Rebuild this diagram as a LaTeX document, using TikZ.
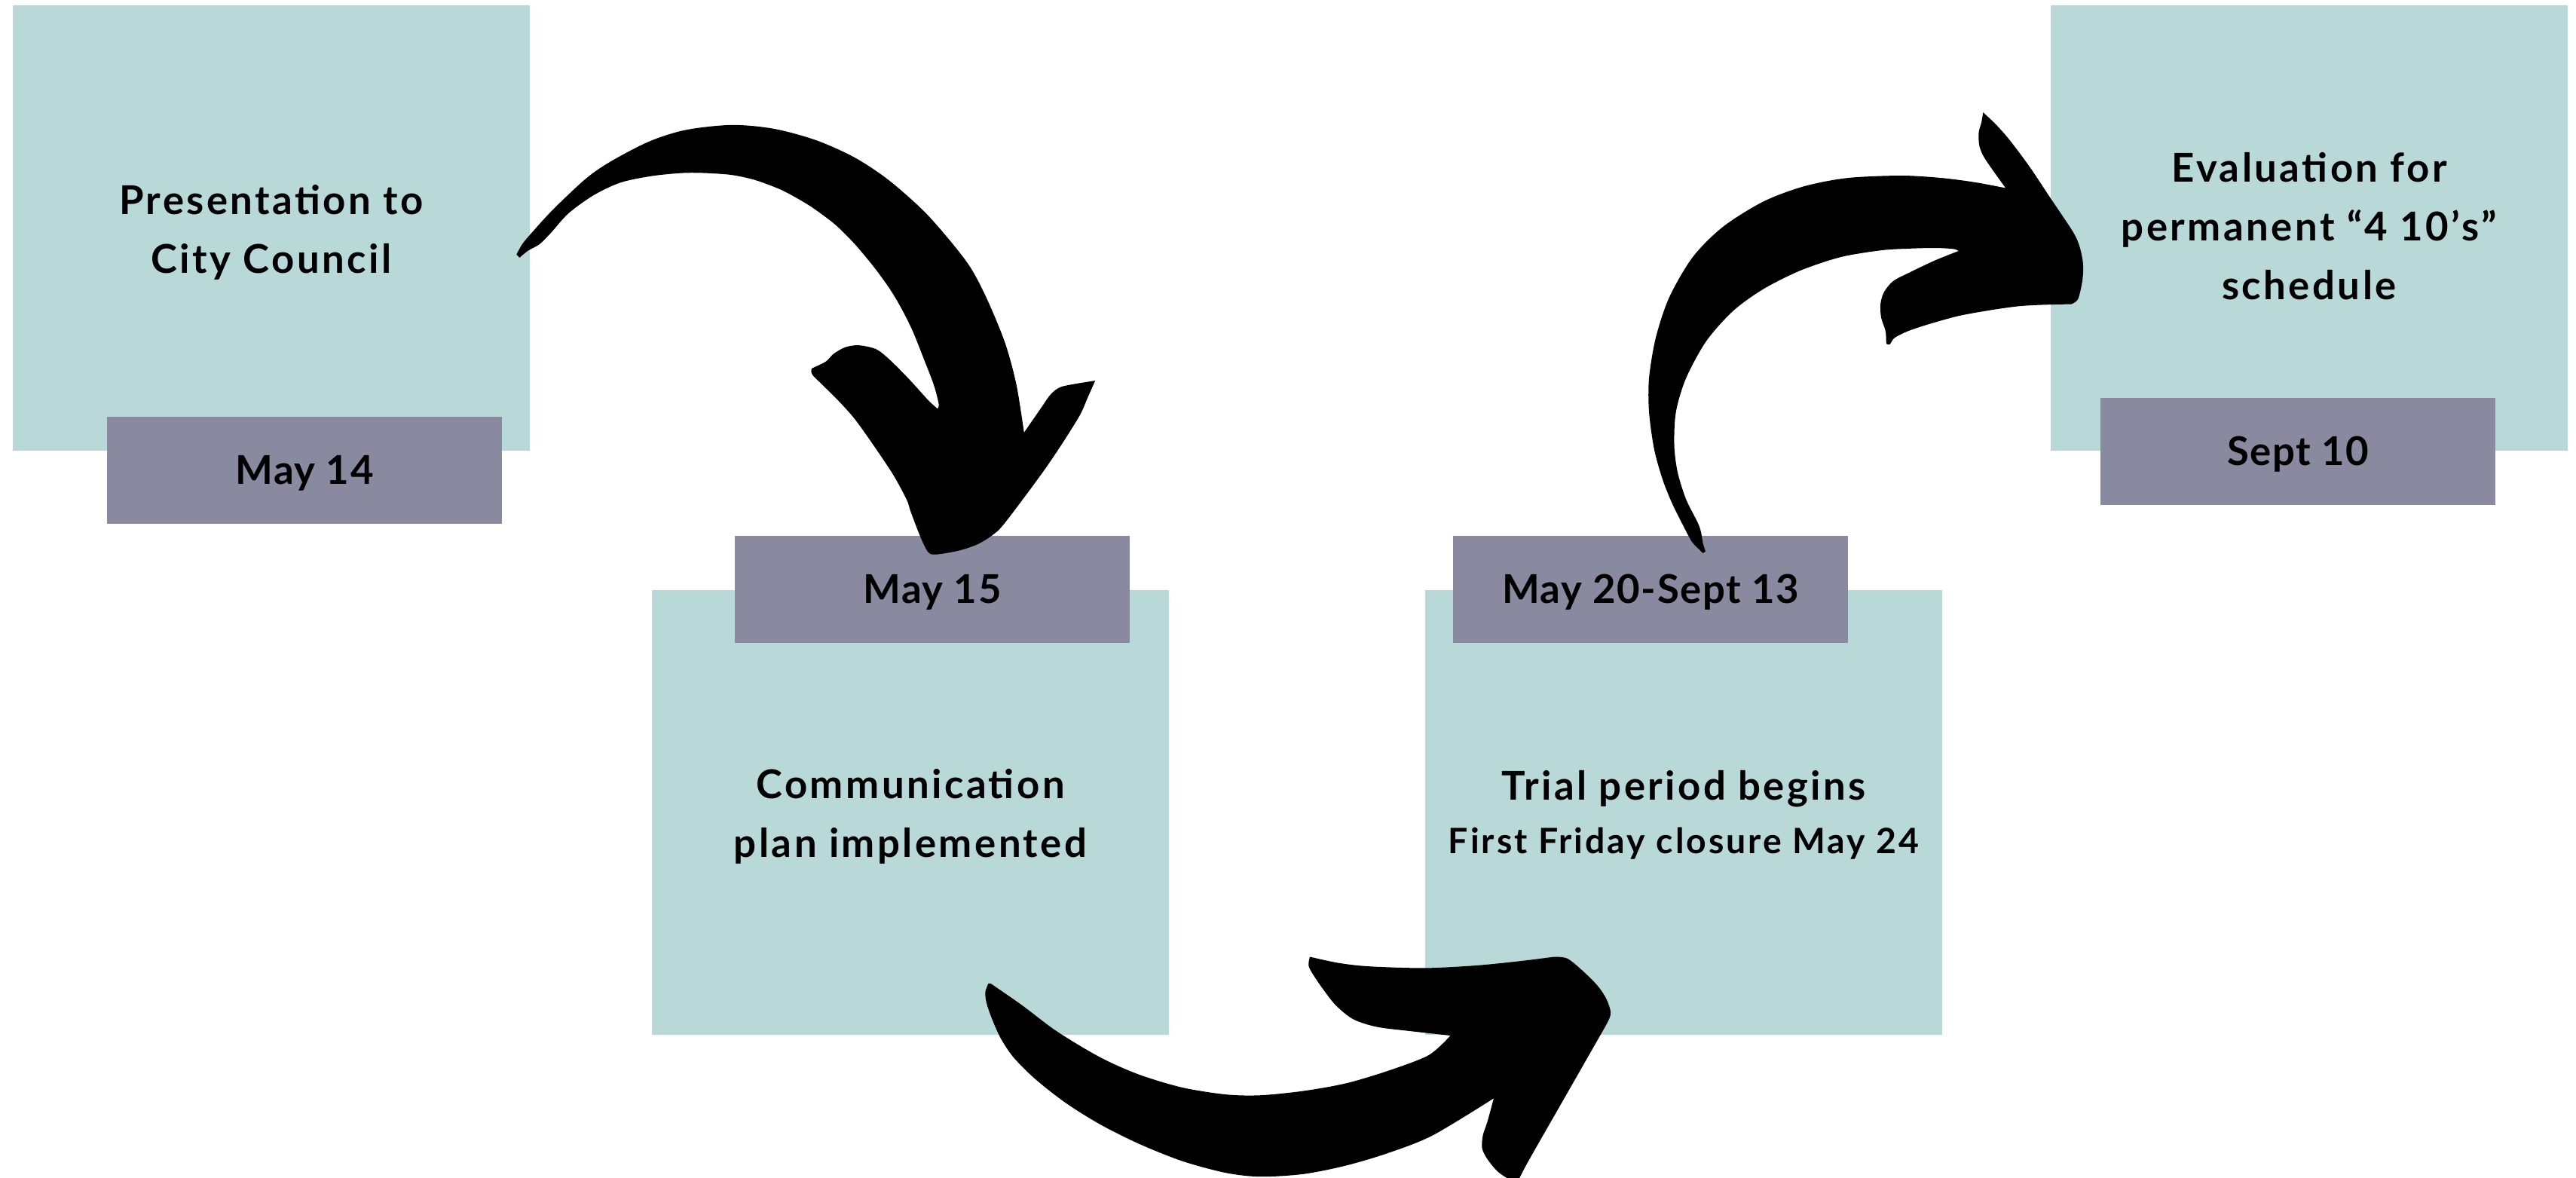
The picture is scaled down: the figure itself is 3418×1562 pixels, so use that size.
\documentclass[tikz,border=0pt]{standalone}
\usepackage{fontspec}
\setmainfont{Lato}
\newfontfamily\cardfont{Lato}[LetterSpace=6.5]
\newfontfamily\datefont{Lato}[LetterSpace=3]
\definecolor{boxteal}{RGB}{185,216,216}
\definecolor{datepurple}{RGB}{137,137,159}
\begin{document}
\begin{tikzpicture}[x=0.02cm,y=-0.02cm,
  card/.style={fill=boxteal, minimum width=13.72cm, minimum height=11.82cm, inner sep=0pt, outer sep=0pt},
  datebox/.style={fill=datepurple, minimum width=10.5cm, minimum height=2.84cm, inner sep=0pt, outer sep=0pt,
    font=\datefont\bfseries\fontsize{30}{36}\selectfont, text height=21.5pt, text depth=0pt},
  cardtext/.style={font=\cardfont\bfseries\fontsize{30}{44.5}\selectfont, align=center, inner sep=0pt},
  subtext/.style={font=\cardfont\bfseries\fontsize{26.4}{30}\selectfont, inner sep=0pt},
  bigarrow/.style={fill=black},
  sm/.style={smooth, tension=0.5}]
\useasboundingbox (0,0) rectangle (3418,1562);
\fill[white] (0,0) rectangle (3418,1562);

% cards
\node[card] (c1) at (360,302.5) {};
\node[card] (c2) at (1208,1078) {};
\node[card] (c3) at (2234,1078) {};
\node[card] (c4) at (3064,302.5) {};

% date tabs
\node[datebox] (d1) at (404,624) {May 14};
\node[datebox] (d2) at (1237,782) {May 15};
\node[datebox] (d3) at (2190,782) {May 20-Sept 13};
\node[datebox] (d4) at (3049,599) {Sept 10};

% card texts
\node[cardtext] (t1) at (360,308) {Presentation to\\City Council};
\node[cardtext] (t2) at (1208,1083) {Communication\\plan implemented};
\node[cardtext, anchor=base] (t3) at (2234,1061) {Trial period begins};
\node[subtext, anchor=base] (t3b) at (2234,1132) {First Friday closure May 24};
\node[cardtext] (t4) at (3064,300) {Evaluation for\\permanent “4 10’s”\\schedule};

% arrow 1: c1 -> d2
\begin{scope}[shift={(670,0)}, scale=0.5102]
\fill[bigarrow] plot[sm] coordinates {(30,662) (45,635) (70,605) (125,545) (210,465) (275,420) (375,368) (470,338) (590,325) (700,335) (810,365) (910,410) (1000,470) (1100,560) (1200,680) (1250,770) (1300,890) (1330,1000) (1350,1125)}
 -- plot[sm] coordinates {(1350,1125) (1395,1060) (1420,1025) (1450,1005) (1535,990)}
 -- plot[sm] coordinates {(1535,990) (1515,1035) (1495,1080) (1445,1160) (1390,1240) (1300,1360) (1270,1390) (1230,1415) (1180,1432) (1120,1442) (1100,1435) (1080,1395) (1055,1330) (1045,1300) (1010,1235) (960,1160) (910,1090) (870,1045) (830,1005) (800,975) (797,960) (805,955) (835,940) (855,920) (885,903) (920,898) (965,908) (1000,935) (1050,985) (1100,1040) (1125,1063)}
 -- plot[sm] coordinates {(1125,1063) (1128,1050) (1115,1000) (1090,935) (1060,860) (1030,800) (1000,750) (960,695) (910,635) (860,585) (800,540) (750,510) (710,490) (650,468) (590,455) (520,450) (460,450) (380,458) (300,475) (230,508) (165,555) (120,605) (90,635) (60,652) (38,670)}
 -- cycle;
\end{scope}

% arrow 2: c2 -> c3
\begin{scope}[shift={(1270,662)}, scale=0.5742]
\fill[bigarrow] plot[sm] coordinates {(72,1120) (65,1140) (68,1165) (80,1200) (100,1245) (130,1290) (180,1340) (250,1395) (330,1445) (420,1490) (520,1530) (620,1557) (700,1566) (800,1560) (900,1540) (1000,1510) (1100,1470) (1240,1385)}
 -- plot[sm] coordinates {(1240,1385) (1225,1440) (1215,1470) (1213,1500) (1225,1525) (1250,1555) (1285,1578)}
 -- plot[sm] coordinates {(1295,1578) (1320,1530) (1400,1390) (1480,1250) (1505,1205) (1510,1185) (1500,1155) (1480,1125) (1445,1090) (1410,1062) (1380,1058)}
 -- plot[sm] coordinates {(1380,1058) (1300,1068) (1200,1078) (1080,1084) (950,1080) (880,1072) (815,1058)}
 -- plot[sm] coordinates {(815,1058) (812,1078) (822,1098) (845,1132) (875,1170) (915,1202) (970,1220) (1050,1230) (1140,1240)}
 -- plot[sm] coordinates {(1140,1240) (1090,1285) (1000,1320) (900,1350) (800,1368) (700,1378) (620,1376) (520,1360) (420,1330) (330,1290) (230,1230) (150,1170) (78,1120)}
 -- cycle;
\end{scope}

% arrow 3: d3 -> c4
\begin{scope}[shift={(2130,100)}, scale=0.4464]
\fill[bigarrow] plot[sm] coordinates {(290,1420) (280,1410) (262,1392) (248,1370) (200,1275) (170,1200) (145,1110) (130,1000) (130,900) (150,780) (190,660) (260,540) (350,450) (470,375) (590,330) (720,305) (880,298) (1000,305) (1100,318) (1190,335)}
 -- plot[sm] coordinates {(1190,335) (1130,250) (1112,210) (1110,170) (1118,140) (1123,110)}
 -- plot[sm] coordinates {(1123,110) (1160,145) (1200,190) (1260,270) (1320,360) (1390,465) (1410,510) (1420,560) (1418,610) (1405,665) (1385,680)}
 -- plot[sm] coordinates {(1385,680) (1300,682) (1230,686) (1150,697) (1050,715) (960,740) (900,760) (860,780) (845,800) (835,797)}
 -- plot[sm] coordinates {(835,797) (833,760) (820,720) (818,680) (828,645) (855,612) (900,588) (980,550) (1050,522)}
 -- plot[sm] coordinates {(1050,522) (1035,516) (980,513) (900,515) (820,520) (700,540) (580,580) (470,635) (380,700) (300,790) (240,900) (210,1000) (205,1100) (215,1180) (240,1260) (275,1330) (285,1360) (290,1390) (298,1415)}
 -- cycle;
\end{scope}
\end{tikzpicture}
\end{document}
